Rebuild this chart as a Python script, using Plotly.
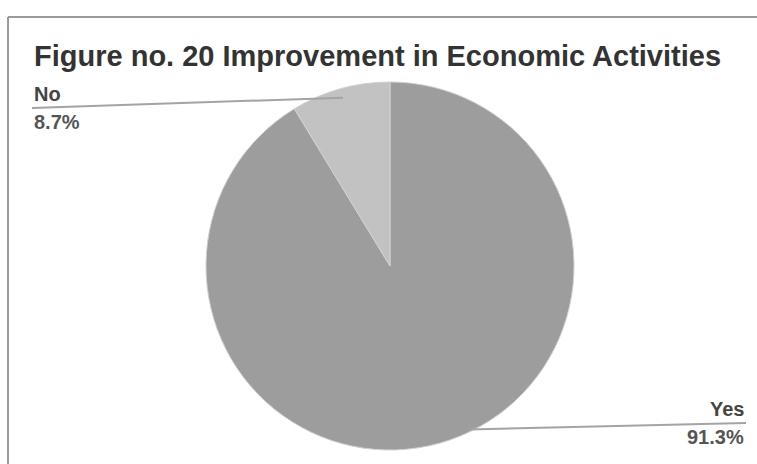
import math
import plotly.graph_objects as go

W, H = 757, 464

title_text = "Figure no. 20 Improvement in Economic Activities"
categories = ["Yes", "No"]
values = [91.3, 8.7]
slice_colors = ["#9d9d9d", "#c2c2c2"]

# pie geometry (pixels)
cx, cy, r = 390, 266, 184
anchor_frac = [0.47, 0.5]     # where along each slice the leader line touches
anchor_rad = [0.985, 0.95]

def px(x):
    return x / W

def py(y):
    return 1 - y / H

fig = go.Figure(go.Pie(
    labels=categories,
    values=values,
    sort=False,
    direction="clockwise",
    rotation=0,
    marker=dict(colors=slice_colors, line=dict(color="#d0d0d0", width=1)),
    textinfo="none",
    hoverinfo="label+percent",
    showlegend=False,
    domain=dict(x=[px(cx - r), px(cx + r)], y=[py(cy + r), py(cy - r)]),
))

shapes = [
    # frame
    dict(type="line", xref="paper", yref="paper", x0=px(8), x1=px(757), y0=py(17), y1=py(17),
         line=dict(color="#9a9a9a", width=2)),
    dict(type="line", xref="paper", yref="paper", x0=px(8), x1=px(8), y0=py(17), y1=py(464),
         line=dict(color="#9a9a9a", width=2)),
]
annotations = [
    dict(text="<b>%s</b>" % title_text, xref="paper", yref="paper", x=px(32), y=py(56),
         xanchor="left", yanchor="middle", showarrow=False,
         font=dict(family="Liberation Sans, Arial", size=29, color="#333333")),
]

total = sum(values)
cum = 0.0
label_pos = {"No": ("left", 32), "Yes": ("right", 746)}
label_line_y = {"No": 108, "Yes": 423}
for i, (cat, val) in enumerate(zip(categories, values)):
    start = cum / total * 360
    span = val / total * 360
    cum += val
    ang = math.radians(start + span * anchor_frac[i])
    ax = cx + r * anchor_rad[i] * math.sin(ang)
    ay = cy - r * anchor_rad[i] * math.cos(ang)
    side, lx = label_pos[cat]
    ly = label_line_y[cat]
    shapes.append(dict(type="line", xref="paper", yref="paper", x0=px(lx), y0=py(ly),
                       x1=px(ax), y1=py(ay), line=dict(color="#a4a4a4", width=2)))
    pct = "%.1f%%" % (val / total * 100)
    annotations.append(dict(text="<b>%s</b>" % cat, xref="paper", yref="paper", x=px(lx), y=py(ly - 1),
                            xanchor=side, yanchor="bottom", showarrow=False,
                            font=dict(family="Liberation Sans, Arial", size=20, color="#444444")))
    annotations.append(dict(text="<b>%s</b>" % pct, xref="paper", yref="paper", x=px(lx), y=py(ly + 1),
                            xanchor=side, yanchor="top", showarrow=False,
                            font=dict(family="Liberation Sans, Arial", size=20, color="#555555")))

fig.update_layout(
    width=W, height=H,
    margin=dict(l=0, r=0, t=0, b=0),
    paper_bgcolor="white",
    plot_bgcolor="white",
    shapes=shapes,
    annotations=annotations,
)

fig.write_html("out.html", config={"displayModeBar": False},
               post_script="document.body.style.margin='0';")
